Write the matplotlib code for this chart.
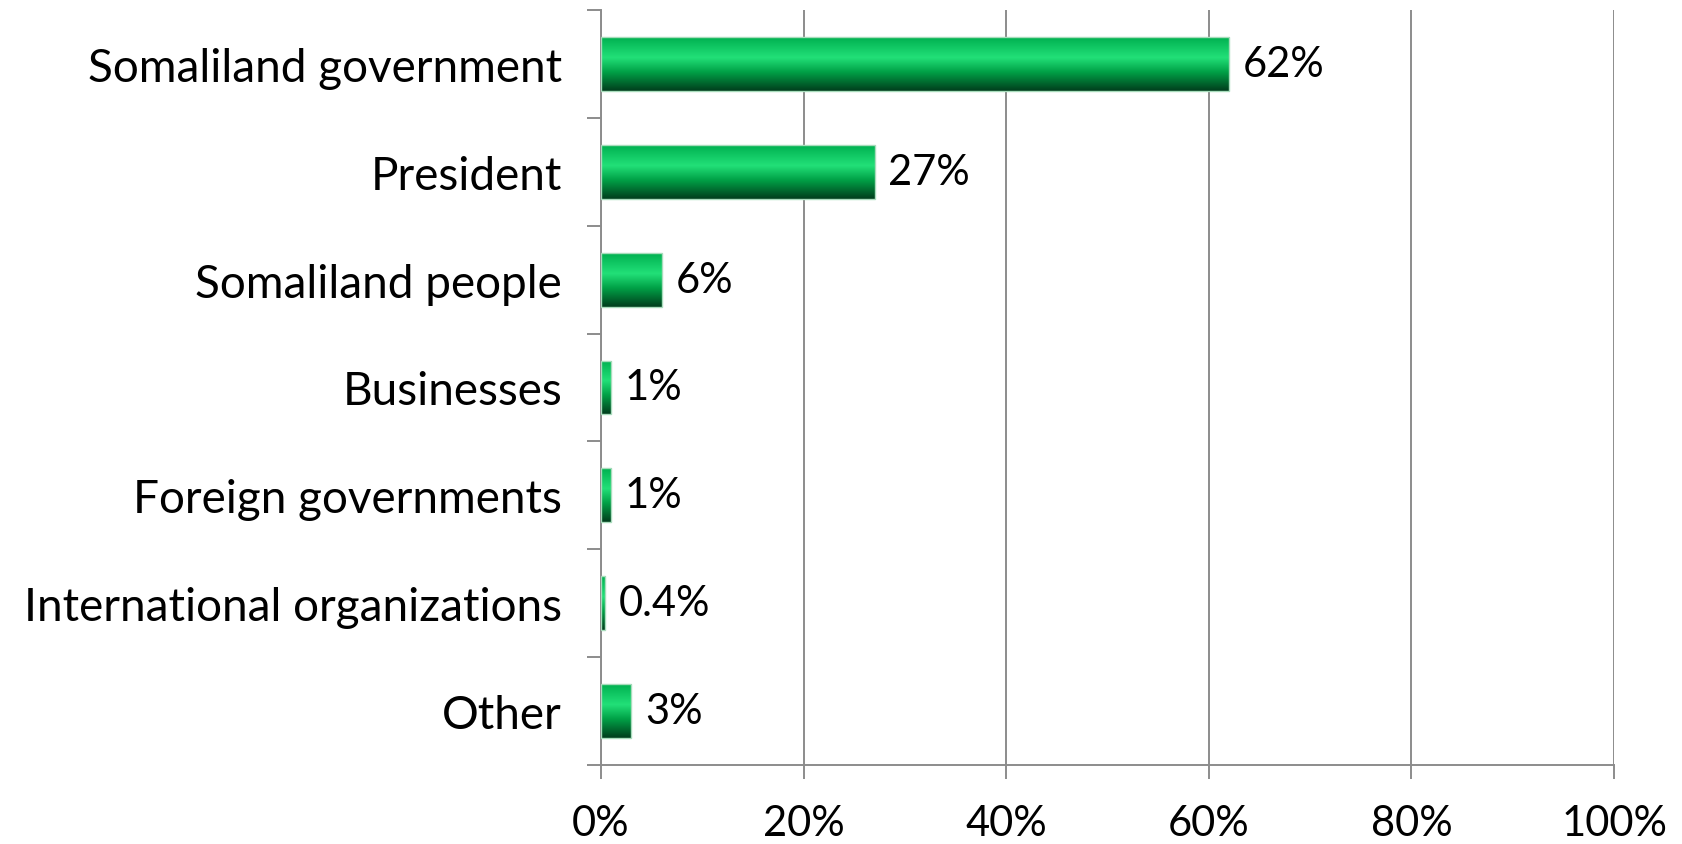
import matplotlib
matplotlib.use("Agg")
import matplotlib.pyplot as plt
import numpy as np
from matplotlib.colors import LinearSegmentedColormap
from matplotlib.ticker import MultipleLocator, FuncFormatter

plt.rcParams['font.family'] = ['Lato', 'DejaVu Sans']

# datos
categorias = ['Somaliland government', 'President', 'Somaliland people', 'Businesses',
              'Foreign governments', 'International organizations', 'Other']
valores = [62, 27, 6, 1, 1, 0.4, 3]
etiquetas = ['62%', '27%', '6%', '1%', '1%', '0.4%', '3%']

# degradado vertical de las barras (arriba -> abajo)
verde = LinearSegmentedColormap.from_list(
    'verde', [(0.0, '#00b050'), (0.38, '#22e078'), (0.65, '#00a046'), (1.0, '#003d1c')])

fig = plt.figure(figsize=(16.82, 8.45), dpi=100)
ax = fig.add_axes([0.3573, 0.0935, 0.6023, 0.8935])

y = np.arange(len(categorias))
barras = ax.barh(y, valores, height=0.5, color='none', edgecolor='#a8dcbc', linewidth=1, zorder=3)

grad = np.linspace(0, 1, 256).reshape(-1, 1)
for b in barras:
    x0, y0 = b.get_x(), b.get_y()
    w, h = b.get_width(), b.get_height()
    im = ax.imshow(grad, cmap=verde, aspect='auto', extent=[x0, x0 + w, y0 + h, y0],
                   origin='upper', zorder=2, interpolation='bilinear')
    im.set_clip_path(b)

for b, txt in zip(barras, etiquetas):
    ax.annotate(txt, (b.get_width(), b.get_y() + b.get_height() / 2),
                xytext=(10, 0), textcoords='offset points', va='center', ha='left', fontsize=30)

ax.set_xlim(0, 100)
ax.set_ylim(len(categorias) - 0.5, -0.5)
ax.set_yticks(y)
ax.set_yticklabels(categorias)
ax.set_yticks(np.arange(-0.5, len(categorias), 1), minor=True)
ax.tick_params(axis='y', which='major', length=0, pad=28, labelsize=33)
ax.tick_params(axis='y', which='minor', length=10, width=1.4, color='#8c8c8c', direction='out')
ax.xaxis.set_major_locator(MultipleLocator(20))
ax.xaxis.set_major_formatter(FuncFormatter(lambda v, p: f'{v:.0f}%'))
ax.tick_params(axis='x', length=10, width=1.4, color='#8c8c8c', direction='out', labelsize=30, pad=18)

ax.grid(True, axis='x', color='#8c8c8c', linewidth=1.4, zorder=0)
ax.set_axisbelow(True)
for lado in ['top', 'right']:
    ax.spines[lado].set_visible(False)
for lado in ['left', 'bottom']:
    ax.spines[lado].set_color('#8c8c8c')
    ax.spines[lado].set_linewidth(1.4)

fig.savefig('out.png', dpi=100)
